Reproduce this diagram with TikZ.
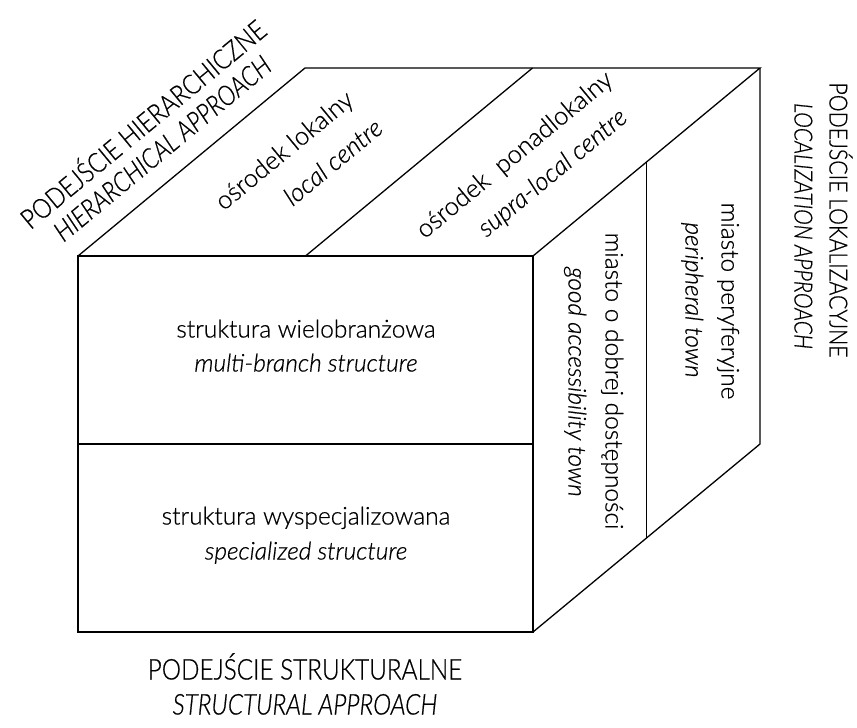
\documentclass[tikz,border=0pt]{standalone}
\usepackage{fontspec}
\setmainfont{Lato}[UprightFont=* Light, ItalicFont=* Light Italic, FakeBold=0.6]
\newfontfamily\labelfont{Lato}[UprightFont=* Light, ItalicFont=* Light Italic, FakeStretch=0.85, FakeBold=0.6]
\begin{document}
\begin{tikzpicture}[x=1pt,y=-1pt,
  edge/.style={line width=1.3pt, line join=miter, black},
  frontedge/.style={line width=1.9pt, line join=miter, black},
  txt/.style={inner sep=0pt, text height=0.72em, text depth=0.22em, font=\fontsize{24.5}{30}\selectfont},
  itxt/.style={txt, font=\fontsize{24.5}{30}\selectfont\itshape},
  ttxt/.style={inner sep=0pt, text height=0.72em, text depth=0.22em, font=\fontsize{25.5}{30}\selectfont},
  ittxt/.style={ttxt, font=\fontsize{25.5}{30}\selectfont\itshape},
  lab/.style={inner sep=0pt, text height=0.72em, text depth=0.22em, font=\labelfont\fontsize{28.6}{34}\selectfont},
  ilab/.style={lab, font=\labelfont\fontsize{28.6}{34}\selectfont\itshape},
  hlab/.style={inner sep=0pt, text height=0.72em, text depth=0.22em, font=\labelfont\fontsize{27.5}{33}\selectfont},
  ihlab/.style={hlab, font=\labelfont\fontsize{27.5}{33}\selectfont\itshape},
  slab/.style={inner sep=0pt, text height=0.72em, text depth=0.22em, font=\labelfont\fontsize{25}{30}\selectfont},
  islab/.style={slab, font=\labelfont\fontsize{25}{30}\selectfont\itshape},
  slant/.style={rotate=39.6},
  down/.style={rotate=-90}]
\useasboundingbox (0,0) rectangle (857,728);
% cube corners
\coordinate (A) at (78,256);
\coordinate (B) at (533,256);
\coordinate (C) at (533,632);
\coordinate (D) at (78,632);
\coordinate (E) at (305,68);
\coordinate (F) at (760,68);
\coordinate (G) at (760,444);
\coordinate (M1) at (78,444);
\coordinate (M2) at (533,444);
\coordinate (T1) at (305.5,256);
\coordinate (T2) at (532.5,68);
\coordinate (R1) at (646.5,162);
\coordinate (R2) at (646.5,538);
% top and right faces
\draw[edge] (A) -- (E) -- (F) -- (B);
\draw[edge] (F) -- (G) -- (C);
\draw[edge] (T1) -- (T2);
\draw[edge] (R1) -- (R2);
% front face
\draw[frontedge] (A) rectangle (C);
\draw[edge] (M1) -- (M2);
% front texts
\node[txt]  (f1) at (306,335) {struktura wielobranżowa};
\node[itxt] (f2) at (306,369) {multi-branch structure};
\node[txt]  (f3) at (306,522) {struktura wyspecjalizowana};
\node[itxt] (f4) at (306,557) {specialized structure};
% bottom label
\node[lab]  (s1) at (305,677) {PODEJŚCIE STRUKTURALNE};
\node[ilab] (s2) at (305,712) {STRUCTURAL APPROACH};
% top face texts
\node[ttxt,slant]  (t1) at (288,155) {ośrodek lokalny};
\node[ittxt,slant] (t2) at (337,167) {local centre};
\node[ttxt,slant]  (t3) at (518,159) {ośrodek\ \ ponadlokalny};
\node[ittxt,slant] (t4) at (556,177) {supra-local centre};
% hierarchical label
\node[hlab,slant]  (h1) at (148,130) {PODEJŚCIE HIERARCHICZNE};
\node[ihlab,slant] (h2) at (167,154) {HIERARCHICAL APPROACH};
% right face texts
\node[txt,down]  (r1) at (608,381) {miasto o dobrej dostępności};
\node[itxt,down] (r2) at (571,382) {good accessibility town};
\node[txt,down]  (r3) at (724,301) {miasto peryferyjne};
\node[itxt,down] (r4) at (688,300) {peripheral town};
% localization label
\node[slab,down]  (l1) at (832,220) {PODEJŚCIE LOKALIZACYJNE};
\node[islab,down] (l2) at (797,226) {LOCALIZATION APPROACH};
\end{tikzpicture}
\end{document}
